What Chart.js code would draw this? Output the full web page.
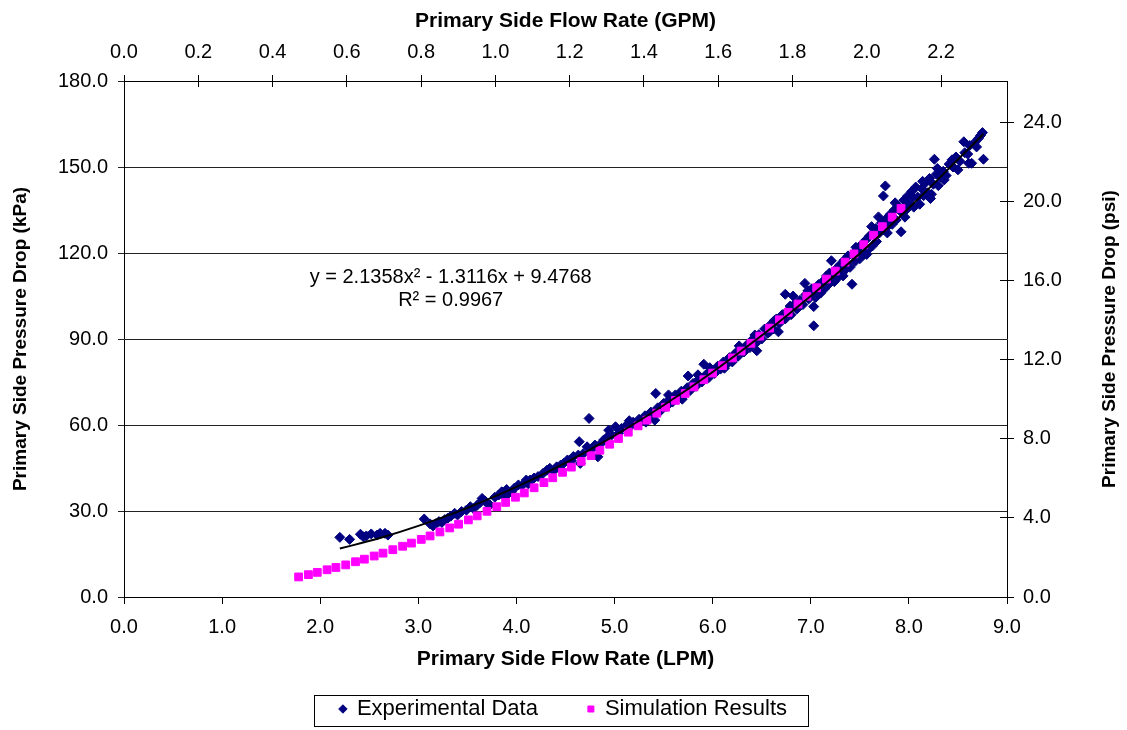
<!DOCTYPE html>
<html>
<head>
<meta charset="utf-8">
<title>Primary Side Pressure Drop</title>
<script src="https://cdn.jsdelivr.net/npm/chart.js@4.4.0/dist/chart.umd.min.js"></script>
<style>
  html, body { margin: 0; padding: 0; background: #fff; }
  #wrap { width: 1127px; height: 730px; position: relative; }
</style>
</head>
<body>
<div id="wrap"><canvas id="pdChart"></canvas></div>
<script>
// experimental points (LPM, kPa)
const expFlow = [
  2.20, 2.30, 2.41, 2.44, 2.47, 2.52, 2.58, 2.61, 2.66, 2.69,
  3.06, 3.12, 3.15, 3.18, 3.21, 3.24, 3.27, 3.30, 3.33, 3.37, 3.40, 3.44, 3.49, 3.53, 3.56,
  3.60, 3.63, 3.65, 3.68, 3.70, 3.73, 3.78, 3.82, 3.85, 3.88, 3.92, 3.95, 3.98, 4.02, 4.06,
  4.10, 4.14, 4.18, 4.22, 4.27, 4.31, 4.34, 4.38, 4.41, 4.45, 4.48, 4.52, 4.56,
  4.63, 4.64, 4.65, 4.68, 4.72, 4.74, 4.77, 4.80, 4.82, 4.83, 4.86, 4.89, 4.92, 4.94, 4.97,
  5.01, 5.04, 5.07, 5.10,
  5.13, 5.16, 5.19, 5.22, 5.25, 5.28, 5.31, 5.34, 5.37, 5.40, 5.41, 5.42, 5.44, 5.47, 5.50,
  5.53, 5.56, 5.59, 5.62, 5.65, 5.68, 5.71, 5.75, 5.74, 5.77, 5.80, 5.83, 5.86, 5.89, 5.91,
  5.93, 5.96, 5.99,
  6.02, 6.05, 6.08, 6.11, 6.14, 6.17, 6.20, 6.23, 6.26, 6.29, 6.32, 6.35, 6.38, 6.41, 6.44,
  6.45, 6.47, 6.50, 6.53, 6.56, 6.59, 6.62, 6.65, 6.67, 6.68, 6.71, 6.74, 6.74, 6.77, 6.80,
  6.82, 6.83, 6.86, 6.89, 6.92, 6.94, 6.95, 6.98,
  7.01, 7.03, 7.03, 7.05, 7.08, 7.10, 7.12, 7.14, 7.16, 7.18, 7.21, 7.22, 7.24, 7.26, 7.28,
  7.30, 7.32, 7.34, 7.36, 7.38, 7.40, 7.42, 7.43, 7.45, 7.47, 7.50, 7.50, 7.52, 7.54, 7.56,
  7.58, 7.60, 7.62, 7.63, 7.65, 7.67, 7.69, 7.70, 7.72, 7.74, 7.75, 7.76, 7.77, 7.79, 7.81,
  7.83, 7.85, 7.87, 7.89, 7.92, 7.93, 7.95, 7.97, 7.99,
  8.01, 8.03, 8.05, 8.07, 8.09, 8.11, 8.13, 8.15, 8.17, 8.19, 8.21, 8.23, 8.25, 8.26, 8.28,
  8.30, 8.32, 8.35, 8.38, 8.41, 8.45, 8.48, 8.52, 8.56, 8.57, 8.61, 8.64, 8.62, 8.67, 8.71,
  8.75, 8.76,
  3.90, 4.12, 4.58, 5.15, 5.32, 5.55, 5.69, 5.85, 5.97, 6.12, 6.27, 6.43, 6.58, 6.63, 6.79,
  6.97, 7.07, 7.19, 7.33, 7.46, 7.57, 7.66, 7.78, 7.86, 7.96, 8.04, 8.14, 8.22, 8.29, 8.36,
  8.44, 8.50, 8.60, 8.69, 8.73
];
const expDrop = [
  20.8, 20.1, 21.9, 21.0, 21.3, 22.0, 21.6, 22.2, 22.2, 21.6,
  27.2, 25.5, 24.8, 25.6, 26.3, 26.0, 27.0, 27.5, 28.2, 29.2, 28.6, 29.8, 30.3, 31.5, 30.9,
  32.0, 33.0, 34.4, 33.5, 32.7, 32.1, 34.8, 35.6, 36.7, 35.0, 36.2, 36.7, 38.0, 39.1, 39.0,
  40.8, 40.8, 41.5, 42.0, 43.1, 44.2, 44.9, 44.0, 45.4, 46.0, 46.6, 47.8, 47.5,
  49.5, 54.2, 46.6, 50.0, 52.4, 62.3, 51.5, 53.0, 52.4, 48.9, 53.5, 54.8, 55.6, 58.2, 56.5,
  59.4, 57.0, 58.8, 59.0,
  60.2, 59.5, 61.0, 60.4, 62.0, 61.5, 63.2, 62.0, 64.5, 63.5, 61.7, 71.0, 66.0, 65.0, 67.5,
  66.5, 69.0, 68.0, 70.5, 69.5, 71.8, 70.8, 77.1, 73.0, 72.0, 74.5, 73.5, 76.0, 75.0, 81.2,
  77.5, 76.5, 79.0,
  78.0, 80.5, 79.5, 82.0, 81.0, 83.5, 82.0, 85.0, 84.0, 86.5, 85.5, 88.0, 87.0, 90.0, 88.5,
  85.9, 91.5, 90.0, 93.5, 92.0, 95.0, 93.5, 97.0, 92.5, 95.5, 98.5, 105.6, 97.0, 100.0, 98.5,
  105.0, 102.0, 100.5, 103.5, 102.0, 109.4, 105.5, 104.0,
  107.5, 94.6, 101.3, 104.5, 109.0, 106.0, 110.0, 107.5, 112.0, 109.0, 117.3, 112.5, 110.0, 114.5, 111.5,
  116.0, 113.0, 117.5, 114.5, 119.0, 115.0, 109.1, 119.5, 117.0, 121.0, 122.4, 118.0, 123.0, 119.5, 124.5,
  121.0, 126.0, 129.2, 122.5, 127.5, 124.0, 132.6, 127.0, 130.5, 139.9, 128.0, 143.4, 132.0, 129.5, 133.5,
  130.0, 135.0, 131.5, 136.5, 127.4, 134.0, 138.5, 135.0, 140.0,
  137.0, 141.5, 136.0, 143.0, 139.5, 137.0, 142.5, 140.0, 144.5, 141.0, 146.0, 140.5, 144.0, 152.7, 147.5,
  143.5, 146.5, 148.5, 147.0, 151.0, 150.0, 153.5, 152.0, 158.8, 155.0, 151.3, 151.3, 157.5, 158.5, 160.0,
  162.0, 152.7,
  37.5, 39.5, 49.0, 61.5, 61.0, 70.5, 69.0, 77.5, 80.0, 79.8, 87.6, 91.4, 92.5, 96.5, 101.5,
  106.8, 105.5, 113.0, 112.0, 122.0, 119.5, 128.5, 127.0, 137.5, 132.5, 139.5, 145.0, 139.0, 149.5, 145.5,
  152.5, 149.0, 154.5, 157.0, 161.0
];

// simulation results (LPM, kPa)
const simFlow = [
  1.78, 1.88, 1.97, 2.07, 2.16, 2.26, 2.36, 2.45, 2.55, 2.64, 2.74, 2.84, 2.93,
  3.03, 3.12, 3.22, 3.32, 3.41, 3.51, 3.60, 3.70, 3.80, 3.89, 3.99, 4.08, 4.18,
  4.28, 4.37, 4.47, 4.56, 4.66, 4.76, 4.85, 4.95, 5.04, 5.14, 5.24, 5.33, 5.43,
  5.52, 5.62, 5.72, 5.81, 5.91, 6.00, 6.10, 6.20, 6.29, 6.39, 6.48, 6.58, 6.68,
  6.77, 6.87, 6.96, 7.06, 7.16, 7.25, 7.35, 7.44, 7.54, 7.64, 7.73, 7.83, 7.92
];
const simDrop = [
  7.0, 7.8, 8.6, 9.5, 10.3, 11.2, 12.3, 13.2, 14.3, 15.3, 16.5, 17.7, 18.8,
  20.1, 21.3, 22.7, 24.1, 25.4, 26.9, 28.3, 29.9, 31.5, 33.0, 34.8, 36.3, 38.1,
  39.9, 41.6, 43.5, 45.3, 47.3, 49.3, 51.2, 53.3, 55.3, 57.5, 59.7, 61.7, 64.1,
  66.2, 68.6, 71.0, 73.3, 75.8, 78.1, 80.7, 83.4, 85.8, 88.5, 91.0, 93.8, 96.7,
  99.3, 102.2, 104.9, 107.9, 110.9, 113.7, 116.8, 119.7, 122.9, 126.2, 129.2, 132.5, 135.5
];

// polynomial trendline as drawn on the plot
const trendFlow = [2.2, 2.6, 3.0, 3.5, 4.0, 4.5, 5.0, 5.5, 6.0, 6.5, 7.0, 7.5, 8.0, 8.5, 8.76];
const trendDrop = [16.9, 20.5, 24.8, 31.1, 38.4, 46.8, 56.3, 66.9, 78.5, 91.2, 105.0, 119.8, 135.7, 152.6, 161.5];

const fitText = 'y = 2.1358x² - 1.3116x + 9.4768';
const r2Text = 'R² = 0.9967';
const fitAt = [3.33, 111.6];   // LPM, kPa
const r2At = [3.33, 103.6];

// axis ranges and unit conversions
const lpmMax = 9, kpaMax = 180;
const lpmPerGpm = 3.78541, kpaPerPsi = 6.894757;
const lpmStep = 1, kpaStep = 30, gpmStep = 0.2, psiStep = 4;

const titles = {
  bottom: 'Primary Side Flow Rate (LPM)',
  top: 'Primary Side Flow Rate (GPM)',
  left: 'Primary Side Pressure Drop (kPa)',
  right: 'Primary Side Pressure Drop (psi)'
};

const toPoints = (xs, ys) => xs.map((v, i) => ({x: v, y: ys[i]}));
const oneDec = v => Number(v).toFixed(1);

Chart.defaults.font.family = "'Liberation Sans', Arial, sans-serif";
Chart.defaults.color = '#000';

// ticks on the top and right axes cross the frame; also text and legend box
const extras = {
  id: 'extras',
  afterDraw(chart) {
    const ctx = chart.ctx;
    const area = chart.chartArea;
    const {x, y, x2, y2} = chart.scales;
    const crisp = p => Math.round(p - 0.5) + 0.5;
    ctx.save();
    ctx.strokeStyle = '#000';
    ctx.lineWidth = 1;
    ctx.beginPath();
    x2.ticks.forEach(t => {
      const px = crisp(x2.getPixelForValue(t.value));
      ctx.moveTo(px, area.top);
      ctx.lineTo(px, area.top + 6);
    });
    y2.ticks.forEach(t => {
      const py = crisp(y2.getPixelForValue(t.value));
      ctx.moveTo(area.right, py);
      ctx.lineTo(area.right - 7, py);
    });
    ctx.stroke();

    // fit equation
    ctx.fillStyle = '#000';
    ctx.font = "20px 'Liberation Sans', Arial, sans-serif";
    ctx.textAlign = 'center';
    ctx.textBaseline = 'middle';
    ctx.fillText(fitText, x.getPixelForValue(fitAt[0]), y.getPixelForValue(fitAt[1]));
    ctx.fillText(r2Text, x.getPixelForValue(r2At[0]), y.getPixelForValue(r2At[1]));

    // right axis title reads bottom to top like the left one
    ctx.font = "bold 19px 'Liberation Sans', Arial, sans-serif";
    ctx.translate(chart.width - 17, (area.top + area.bottom) / 2);
    ctx.rotate(-Math.PI / 2);
    ctx.fillText(titles.right, 0, 0);
    ctx.restore();

    // frame around the legend
    const hb = chart.legend.legendHitBoxes;
    if (hb && hb.length) {
      const last = hb[hb.length - 1];
      const bx = hb[0].left - 25;
      const bw = last.left + last.width + 22 - bx;
      ctx.save();
      ctx.strokeStyle = '#000';
      ctx.lineWidth = 1;
      ctx.strokeRect(crisp(bx), crisp(hb[0].top - 3), Math.round(bw), 31);
      ctx.restore();
    }
  }
};

new Chart(document.getElementById('pdChart'), {
  type: 'scatter',
  data: {
    datasets: [
      {
        label: 'Experimental Data',
        data: toPoints(expFlow, expDrop),
        pointStyle: 'rectRot',
        pointRadius: 5,
        borderWidth: 1,
        backgroundColor: '#000080',
        borderColor: '#000080',
        order: 3
      },
      {
        label: 'Simulation Results',
        data: toPoints(simFlow, simDrop),
        pointStyle: 'rect',
        pointRadius: 5.5,
        borderWidth: 1,
        backgroundColor: '#FF00FF',
        borderColor: '#FF00FF',
        order: 2
      },
      {
        label: 'Poly. (Experimental Data)',
        data: toPoints(trendFlow, trendDrop),
        showLine: true,
        pointRadius: 0,
        borderColor: '#000',
        borderWidth: 2,
        tension: 0.4,
        order: 1
      }
    ]
  },
  options: {
    responsive: true,
    maintainAspectRatio: false,
    animation: false,
    events: [],
    layout: { padding: 0 },
    plugins: {
      tooltip: { enabled: false },
      legend: {
        position: 'bottom',
        labels: {
          usePointStyle: true,
          boxWidth: 6,
          boxHeight: 6,
          padding: 50,
          font: { size: 22 },
          filter: item => item.datasetIndex < 2,
          sort: (a, b) => a.datasetIndex - b.datasetIndex
        }
      }
    },
    scales: {
      x: {
        type: 'linear',
        position: 'bottom',
        min: 0, max: lpmMax,
        ticks: { stepSize: lpmStep, padding: 11, font: { size: 20 }, callback: oneDec },
        grid: { drawOnChartArea: false, tickLength: 7, color: '#000' },
        border: { color: '#000' },
        title: { display: true, text: titles.bottom, font: { size: 21, weight: 'bold' }, padding: { top: 0, bottom: -24 } },
        afterFit: s => { s.height = 51; }
      },
      x2: {
        type: 'linear',
        position: 'top',
        min: 0, max: lpmMax / lpmPerGpm,
        ticks: { stepSize: gpmStep, includeBounds: false, padding: 11, font: { size: 20 }, callback: oneDec },
        grid: { drawOnChartArea: false, tickLength: 6, color: '#000' },
        border: { color: '#000' },
        title: { display: true, text: titles.top, font: { size: 21, weight: 'bold' }, padding: { top: 9, bottom: 0 } },
        afterFit: s => { s.height = 81; }
      },
      y: {
        type: 'linear',
        position: 'left',
        min: 0, max: kpaMax,
        ticks: { stepSize: kpaStep, padding: 10, font: { size: 20 }, callback: oneDec },
        grid: { color: '#222', tickLength: 6 },
        border: { color: '#000' },
        title: { display: true, text: titles.left, font: { size: 19, weight: 'bold' }, padding: { top: 9, bottom: 0 } },
        afterFit: s => { s.width = 124; }
      },
      y2: {
        type: 'linear',
        position: 'right',
        min: 0, max: kpaMax / kpaPerPsi,
        ticks: { stepSize: psiStep, includeBounds: false, padding: 9, font: { size: 20 }, callback: oneDec },
        grid: { drawOnChartArea: false, tickLength: 7, color: '#000' },
        border: { color: '#000' },
        afterFit: s => { s.width = 120; }
      }
    }
  },
  plugins: [extras]
});
</script>
</body>
</html>
